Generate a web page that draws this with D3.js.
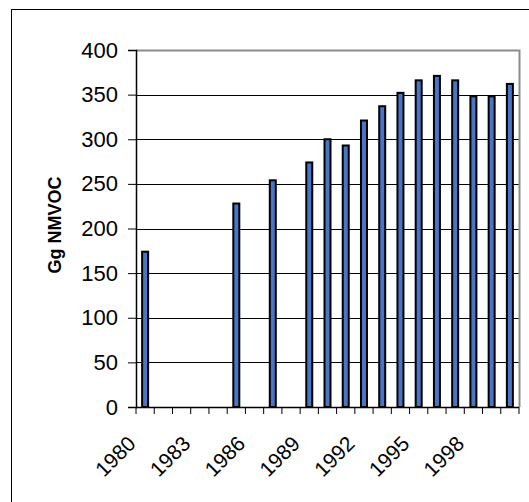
<!DOCTYPE html>
<html>
<head>
<meta charset="utf-8">
<script src="https://cdn.jsdelivr.net/npm/d3@7/dist/d3.min.js"></script>
<style>
  html, body { margin: 0; padding: 0; background: #fff; }
  svg { display: block; }
  text { font-family: Arial, "Liberation Sans", sans-serif; fill: #000; }
</style>
</head>
<body>
<svg id="chart" width="529" height="502"></svg>
<script>
const categories = ["1980","1981","1982","1983","1984","1985","1986","1987","1988","1989","1990",
                    "1991","1992","1993","1994","1995","1996","1997","1998","1999","2000"];
const barYears  = ["1980","1985","1987","1989","1990","1991","1992","1993","1994","1995","1996","1997","1998","1999","2000"];
const barValues = [174, 228, 254, 274, 300, 293, 321, 337, 352, 366, 371, 366, 348, 348, 362];
const xTickLabels = ["1980","1983","1986","1989","1992","1995","1998"];
const yTicks = [0, 50, 100, 150, 200, 250, 300, 350, 400];
const yTitle = "Gg NMVOC";

const svg = d3.select("#chart");
const L = 136, R = 519, T = 50, B = 407;

// outer frame
svg.append("rect").attr("x", 11.5).attr("y", 9.5).attr("width", 600).attr("height", 600)
  .attr("fill", "none").attr("stroke", "#000").attr("stroke-width", 1);

const x = d3.scaleBand().domain(categories).range([L, R]).padding(0);
const y = d3.scaleLinear().domain([0, 400]).range([B, T]);

// gridlines
svg.append("g").selectAll("line").data(yTicks.filter(d => d > 0 && d < 400)).join("line")
  .attr("x1", L).attr("x2", R)
  .attr("y1", d => Math.round(y(d)) + 0.5).attr("y2", d => Math.round(y(d)) + 0.5)
  .attr("stroke", "#000").attr("stroke-width", 1);

// plot border (top/right gray)
svg.append("path")
  .attr("d", `M${L},${T + 0.5}H${R + 0.5}V${B}`)
  .attr("fill", "none").attr("stroke", "#8c8c8c").attr("stroke-width", 2);

// bars
const bw = 6;
svg.append("g").selectAll("rect").data(barYears.map((c, i) => ({c, v: barValues[i]}))).join("rect")
  .attr("x", d => x(d.c) + (x.bandwidth() - bw) / 2)
  .attr("y", d => y(d.v))
  .attr("width", bw)
  .attr("height", d => B - y(d.v))
  .attr("fill", "#4a74c4")
  .attr("stroke", "#000").attr("stroke-width", 2);

// y axis
const yAxis = d3.axisLeft(y).tickValues(yTicks).tickSize(8).tickPadding(10).tickFormat(d3.format("d"));
const gy = svg.append("g").attr("transform", `translate(${L},0)`).call(yAxis);
gy.select(".domain").attr("stroke", "#000").attr("stroke-width", 1.5);
gy.selectAll(".tick line").attr("stroke", "#000");
gy.selectAll(".tick text").attr("font-size", 22).attr("font-family", "Arial, 'Liberation Sans', sans-serif");

// x axis
const gx = svg.append("g").attr("transform", `translate(0,${B})`);
gx.append("line").attr("x1", L).attr("x2", R).attr("y1", 0.5).attr("y2", 0.5)
  .attr("stroke", "#000").attr("stroke-width", 1.5);
const boundaries = categories.map(c => x(c)).concat([R]);
gx.selectAll("line.tk").data(boundaries).join("line").attr("class", "tk")
  .attr("x1", d => d).attr("x2", d => d).attr("y1", 0).attr("y2", 7)
  .attr("stroke", "#000").attr("stroke-width", 1);
gx.selectAll("text").data(xTickLabels).join("text")
  .attr("transform", d => `translate(${x(d) + x.bandwidth() / 2 - 8},${38}) rotate(-45)`)
  .attr("text-anchor", "end")
  .attr("font-size", 21)
  .text(d => d);

// y title
svg.append("text")
  .attr("transform", `translate(61,225) rotate(-90)`)
  .attr("text-anchor", "middle")
  .attr("font-size", 18).attr("font-weight", "bold")
  .text(yTitle);
</script>
</body>
</html>
